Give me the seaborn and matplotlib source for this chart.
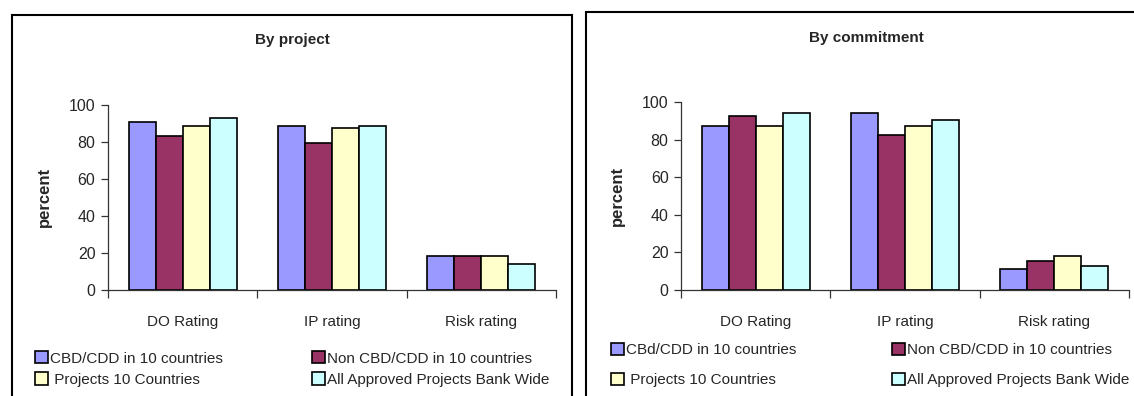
import matplotlib
matplotlib.use("Agg")
import matplotlib.pyplot as plt
import seaborn as sns
import pandas as pd
from matplotlib.patches import Patch, Rectangle

# ---------------- data ----------------
categories = ["DO Rating", "IP rating", "Risk rating"]

series_project = ["CBD/CDD in 10 countries", "Non CBD/CDD in 10 countries",
                  "Projects 10 Countries", "All Approved Projects Bank Wide"]
series_commit = ["CBd/CDD in 10 countries", "Non CBD/CDD in 10 countries",
                 "Projects 10 Countries", "All Approved Projects Bank Wide"]

# By project
proj_cbd = [91.0, 88.5, 18.3]
proj_non = [83.5, 79.3, 18.3]
proj_10c = [88.5, 87.5, 18.3]
proj_all = [93.0, 88.5, 14.0]

# By commitment
comm_cbd = [87.0, 94.0, 11.0]
comm_non = [92.5, 82.5, 15.3]
comm_10c = [87.0, 87.0, 18.0]
comm_all = [94.0, 90.5, 12.8]

yticks = [0, 20, 40, 60, 80, 100]
colors = ["#9999FF", "#993366", "#FFFFCC", "#CCFFFF"]

titles = ["By project", "By commitment"]
ylabel = "percent"

# ---------------- style ----------------
sns.set_theme(style="white")
plt.rcParams["font.family"] = ["Liberation Sans", "DejaVu Sans"]
FS = 11

W, H = 1134, 396
fig = plt.figure(figsize=(W / 100, H / 100), dpi=100)
fig.patch.set_facecolor("white")


def fx(px):
    return px / W


def fy(py):
    return 1 - py / H


def long_df(series, vals):
    rows = []
    for s, v in zip(series, vals):
        for c, val in zip(categories, v):
            rows.append({"cat": c, "series": s, "value": val})
    return pd.DataFrame(rows)


panels = [
    dict(series=series_project, vals=[proj_cbd, proj_non, proj_10c, proj_all],
         ax=(108, 105, 556, 290), frame=(12, 15, 572), title=(292, 40),
         ylab=(44, 197), leg_left=35, leg_right=312, leg_y=369, labsp=0.45),
    dict(series=series_commit, vals=[comm_cbd, comm_non, comm_10c, comm_all],
         ax=(681, 102, 1129, 290), frame=(586, 12, 1200), title=(866, 38),
         ylab=(617, 196), leg_left=611, leg_right=892, leg_y=365, labsp=1.0),
]

for i, p in enumerate(panels):
    x0, ytop, x1, ybot = p["ax"]
    ax = fig.add_axes([fx(x0), fy(ybot), (x1 - x0) / W, (ybot - ytop) / H])
    df = long_df(p["series"], p["vals"])
    sns.barplot(data=df, x="cat", y="value", hue="series", order=categories,
                hue_order=p["series"], palette=colors, width=0.725,
                edgecolor="black", linewidth=1.2, saturation=1, ax=ax,
                legend=False)
    ax.set_xlim(-0.5, 2.5)
    ax.set_ylim(0, 100)
    ax.set_yticks(yticks)
    ax.set_yticklabels([str(t) for t in yticks], fontsize=FS + 0.5)
    ax.set_xticks([-0.5, 0.5, 1.5, 2.5])
    ax.set_xticklabels([])
    ax.set_xticks([0, 1, 2], minor=True)
    ax.set_xticklabels(categories, minor=True, fontsize=FS)
    ax.tick_params(axis="x", which="major", direction="out", length=6,
                   width=0.9, color="#333333", bottom=True)
    ax.tick_params(axis="x", which="minor", length=0, pad=18, bottom=True)
    ax.tick_params(axis="y", direction="out", length=5, width=0.9,
                   color="#333333", pad=4, left=True)
    for s in ["top", "right"]:
        ax.spines[s].set_visible(False)
    for s in ["left", "bottom"]:
        ax.spines[s].set_color("#333333")
        ax.spines[s].set_linewidth(0.9)
    ax.set_xlabel("")
    ax.set_ylabel("")
    ax.set_facecolor("none")
    ax.grid(False)

    # title and y label
    fig.text(fx(p["title"][0]), fy(p["title"][1]), titles[i], ha="center",
             va="center", fontsize=FS, fontweight="bold")
    fig.text(fx(p["ylab"][0]), fy(p["ylab"][1]), ylabel, rotation=90,
             ha="center", va="center", fontsize=FS + 1, fontweight="bold")

    # frame
    fl, ft, fr = p["frame"]
    fig.patches.append(Rectangle((fx(fl), -0.1), fx(fr) - fx(fl), fy(ft) + 0.1,
                                 transform=fig.transFigure, fill=False,
                                 edgecolor="black", linewidth=1.5,
                                 clip_on=False))

    # legends (two columns placed separately)
    handles = [Patch(facecolor=c, edgecolor="black", linewidth=1.2)
               for c in colors]
    labels = list(p["series"])
    labels[2] = " " + labels[2]
    for col, xpos in enumerate([p["leg_left"], p["leg_right"]]):
        idx = [col, col + 2]
        leg = fig.legend([handles[j] for j in idx], [labels[j] for j in idx],
                         loc="center left",
                         bbox_to_anchor=(fx(xpos), fy(p["leg_y"])),
                         bbox_transform=fig.transFigure, frameon=False,
                         fontsize=FS, handlelength=0.85, handleheight=0.85,
                         handletextpad=0.15, borderpad=0, borderaxespad=0,
                         labelspacing=p["labsp"])

fig.savefig("out.png", dpi=100, facecolor="white")
